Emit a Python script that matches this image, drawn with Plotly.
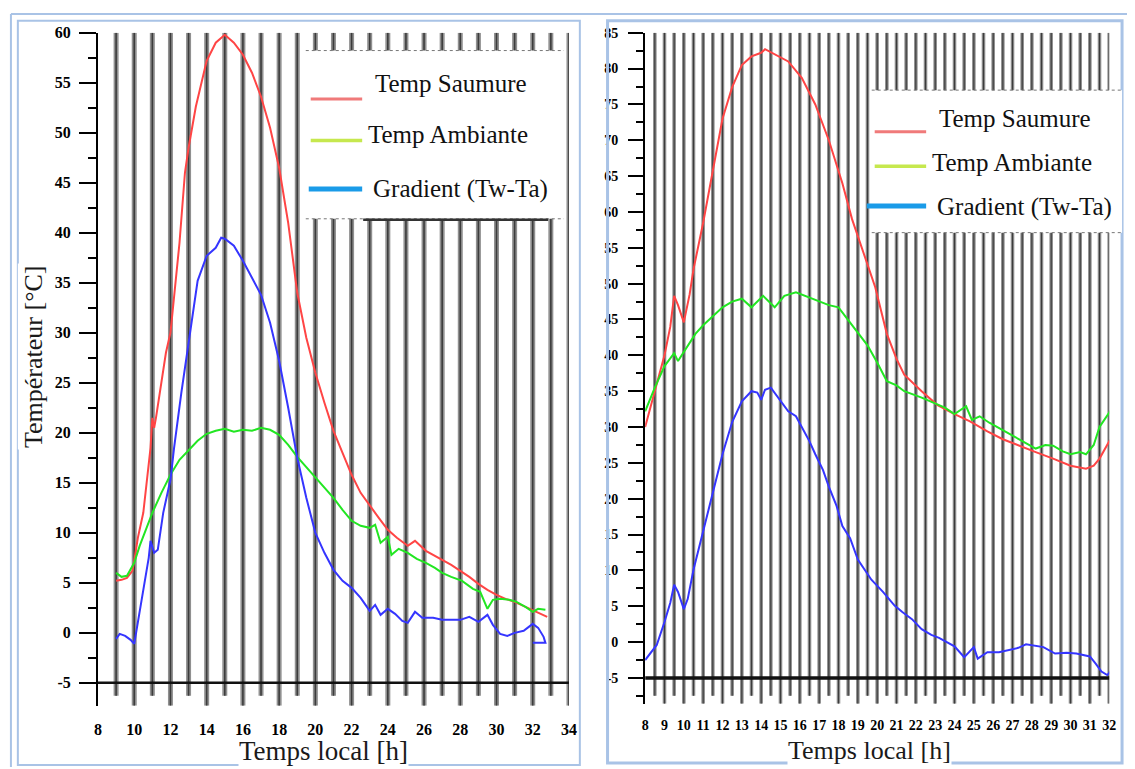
import plotly.graph_objects as go

# ---------------- data : left panel ----------------
t_saumure_L = [9.0, 9.3, 9.6, 9.9, 10.0, 10.2, 10.5, 10.7, 10.9, 11.0, 11.1, 11.2, 11.5, 11.75, 12.0,
               12.5, 12.8, 13.0, 13.4, 13.7, 14.0, 14.5, 15.0, 15.5, 16.0, 16.5, 17.0, 17.5, 18.0,
               18.5, 19.0, 19.5, 20.0, 20.5, 21.0, 21.5, 22.0, 22.5, 23.0, 23.5, 24.0, 24.5, 25.1,
               25.5, 26.1, 26.5, 27.0, 27.5, 28.0, 28.5, 29.0, 29.5, 30.0, 30.5, 31.0, 31.5, 32.0,
               32.4, 32.8]
saumure_L = [5.2, 5.3, 5.5, 6.2, 7.2, 9.5, 12.0, 15.0, 18.5, 21.5, 20.5, 21.5, 25.0, 28.0, 30.0,
             39.0, 46.0, 48.5, 52.6, 55.0, 57.2, 59.0, 59.8, 59.0, 57.8, 56.0, 53.6, 50.5, 46.5,
             41.0, 34.0, 29.5, 26.0, 23.0, 20.2, 18.0, 15.8, 14.0, 12.7, 11.5, 10.3, 9.5, 8.7,
             9.2, 8.2, 7.8, 7.3, 6.8, 6.2, 5.6, 4.9, 4.3, 3.8, 3.4, 3.1, 2.7, 2.3,
             2.0, 1.6]

t_ambiante_L = [9.0, 9.3, 9.6, 10.0, 10.3, 10.6, 11.0, 11.5, 12.0, 12.5, 13.0, 13.5, 14.0, 14.5,
                15.0, 15.5, 16.0, 16.5, 17.0, 17.5, 18.0, 18.5, 19.0, 19.5, 20.0, 20.5, 21.0,
                21.5, 22.0, 22.5, 23.0, 23.3, 23.6, 24.0, 24.2, 24.6, 25.1, 25.6, 26.1, 26.6,
                27.0, 27.5, 28.1, 28.7, 29.1, 29.5, 29.8, 30.2, 30.7, 31.1, 31.6, 32.0, 32.3, 32.7]
ambiante_L = [6.0, 5.6, 5.7, 7.0, 8.7, 10.2, 12.0, 14.0, 15.8, 17.3, 18.3, 19.2, 19.9, 20.2,
              20.4, 20.1, 20.3, 20.2, 20.5, 20.3, 19.8, 18.8, 17.6, 16.6, 15.6, 14.5, 13.5,
              12.3, 11.2, 10.7, 10.5, 10.8, 9.0, 9.6, 7.8, 8.4, 8.0, 7.4, 7.0, 6.5,
              6.0, 5.6, 5.2, 4.4, 4.1, 2.4, 3.3, 3.4, 3.3, 3.1, 2.6, 2.1, 2.4, 2.3]

t_gradient_L = [9.0, 9.2, 9.5, 9.8, 10.0, 10.2, 10.5, 10.8, 10.9, 11.1, 11.3, 11.6, 12.0, 12.2,
                12.6, 13.0, 13.5, 14.0, 14.5, 14.8, 15.0, 15.5, 16.0, 16.5, 17.0, 17.5, 18.0,
                18.5, 19.0, 19.5, 20.0, 20.5, 21.0, 21.5, 22.0, 22.5, 23.0, 23.3, 23.6, 24.0,
                24.4, 24.8, 25.1, 25.5, 25.9, 26.5, 27.0, 27.5, 28.0, 28.5, 29.0, 29.5, 29.8,
                30.2, 30.6, 31.0, 31.5, 32.0, 32.3, 32.6, 32.7, 32.0]
gradient_L = [-0.6, -0.1, -0.3, -0.7, -1.1, 1.0, 4.5, 7.5, 9.2, 8.0, 8.3, 12.0, 15.3, 18.5,
              24.0, 29.0, 35.2, 37.7, 38.5, 39.5, 39.4, 38.7, 37.2, 35.5, 33.8, 31.0, 27.2,
              22.5, 17.5, 13.5, 10.0, 8.0, 6.3, 5.2, 4.5, 3.5, 2.2, 2.8, 1.8, 2.4,
              1.9, 1.2, 1.0, 2.1, 1.5, 1.5, 1.3, 1.3, 1.3, 1.6, 1.1, 1.8, 0.8,
              -0.1, -0.3, 0.0, 0.2, 0.9, 0.5, -0.4, -1.0, -1.0]

# ---------------- data : right panel ----------------
t_saumure_R = [8.0, 8.5, 9.0, 9.3, 9.5, 9.7, 10.0, 10.3, 10.5, 11.0, 11.5, 12.0, 12.5, 13.0,
               13.5, 14.0, 14.2, 14.7, 15.4, 16.1, 16.8, 17.5, 18.2, 18.7, 19.4, 19.9, 20.5,
               21.0, 21.4, 21.9, 22.3, 23.1, 24.0, 24.8, 25.7, 26.5, 27.4, 28.2, 29.1, 30.0,
               30.8, 31.2, 31.5, 32.0, 32.2]
saumure_R = [30.0, 35.0, 40.0, 44.0, 48.3, 47.0, 44.6, 48.5, 52.0, 58.5, 66.0, 73.0, 77.4, 80.5,
             81.7, 82.2, 82.7, 82.0, 81.0, 78.7, 75.0, 70.0, 64.0, 59.0, 53.5, 49.5, 43.0,
             39.5, 37.3, 36.0, 35.0, 33.1, 31.8, 30.8, 29.4, 28.3, 27.3, 26.5, 25.6, 24.6,
             24.2, 24.6, 25.6, 28.0, 28.6]

t_ambiante_R = [8.0, 8.5, 9.0, 9.5, 9.7, 10.0, 10.2, 10.6, 11.0, 11.5, 12.0, 12.5, 13.0, 13.5,
                14.1, 14.7, 15.2, 15.8, 16.5, 17.2, 17.5, 18.0, 18.7, 19.5, 20.0, 20.5, 21.0,
                21.4, 22.3, 23.0, 23.5, 24.0, 24.6, 24.9, 25.3, 25.8, 26.2, 26.8, 27.4, 28.2,
                28.7, 29.1, 29.6, 30.0, 30.5, 30.8, 31.2, 31.5, 32.0, 32.2]
ambiante_R = [32.2, 35.5, 38.5, 40.3, 39.2, 40.5, 41.4, 43.0, 44.2, 45.5, 46.7, 47.5, 47.9, 46.7,
              48.3, 46.7, 48.3, 48.8, 48.1, 47.4, 47.0, 46.7, 44.2, 41.4, 39.0, 36.4, 35.8,
              35.0, 34.1, 33.3, 32.7, 31.8, 32.9, 31.0, 31.5, 30.6, 30.0, 29.0, 28.1, 27.0,
              27.5, 27.4, 26.6, 26.2, 26.5, 26.2, 27.5, 30.0, 32.0, 32.7]

t_gradient_R = [8.0, 8.6, 9.0, 9.3, 9.5, 9.7, 10.0, 10.2, 10.5, 11.0, 11.5, 12.0, 12.5, 13.0,
                13.5, 13.8, 14.0, 14.2, 14.5, 14.9, 15.4, 15.8, 16.1, 16.5, 16.8, 17.2, 17.5,
                17.9, 18.2, 18.6, 19.0, 19.4, 19.7, 20.3, 20.9, 21.3, 21.8, 22.3, 22.8, 23.2,
                23.6, 24.0, 24.5, 25.0, 25.2, 25.7, 26.3, 26.9, 27.3, 27.7, 28.2, 28.6, 29.2,
                29.8, 30.3, 31.0, 31.3, 31.6, 31.9, 32.1]
gradient_R = [-2.5, -0.4, 2.8, 5.5, 8.0, 7.0, 4.6, 6.0, 10.1, 15.6, 20.7, 26.2, 30.7, 33.6,
              35.0, 34.8, 33.8, 35.2, 35.5, 34.1, 32.2, 31.5, 30.0, 28.0, 26.2, 24.0, 21.7,
              19.0, 16.2, 14.5, 11.5, 10.0, 8.7, 7.0, 5.1, 4.2, 3.2, 1.8, 1.0, 0.6,
              0.0, -0.6, -2.1, -0.7, -2.3, -1.4, -1.4, -1.1, -0.8, -0.3, -0.5, -0.7, -1.6,
              -1.5, -1.6, -2.0, -3.0, -4.1, -4.6, -4.0]

x_ticks_L = list(range(8, 35, 2))
x_ticks_R = list(range(8, 33, 1))
y_ticks_L = list(range(-5, 61, 5))
y_ticks_R = list(range(-5, 86, 5))
legend_labels = ["Temp Saumure", "Temp Ambiante", "Gradient (Tw-Ta)"]
x_title = "Temps local [h]"
y_title = "Températeur [°C]"

# ---------------- styling ----------------
W, H = 1135, 769
RED, GREEN, BLUE = "#ff4545", "#22e622", "#3535ff"
LEG_RED, LEG_GREEN, LEG_BLUE = "#f07a7a", "#c6e84e", "#1a9be8"
FRAME = "#a9c3e6"
SERIF = "Liberation Serif"


def px(x):
    return x / W


def py(y):
    return 1 - y / H


def bold(vals):
    return ["<b>%d</b>" % v for v in vals]


# axis geometry (pixel positions)
L_X0, L_X1, L_XMIN, L_XMAX = 95, 571, 8, 34
L_Y0, L_Y1, L_YMIN, L_YMAX = 25, 705, -7.28, 60
R_X0, R_X1, R_XMIN, R_XMAX = 648, 1117, 8, 32
R_Y0, R_Y1, R_YMIN, R_YMAX = 25, 703, -8.59, 85

fig = go.Figure()

series = [
    ("x", "y", t_saumure_L, saumure_L, RED),
    ("x", "y", t_ambiante_L, ambiante_L, GREEN),
    ("x", "y", t_gradient_L, gradient_L, BLUE),
    ("x2", "y2", t_saumure_R, saumure_R, RED),
    ("x2", "y2", t_ambiante_R, ambiante_R, GREEN),
    ("x2", "y2", t_gradient_R, gradient_R, BLUE),
]
for xa, ya, xs, ys, col in series:
    fig.add_trace(go.Scatter(x=xs, y=ys, xaxis=xa, yaxis=ya, mode="lines",
                             line=dict(color=col, width=2), showlegend=False,
                             hoverinfo="skip"))

shapes = []


def vline(xref, yref, x, y0, y1, w_out, w_in):
    shapes.append(dict(type="line", xref=xref, yref=yref, x0=x, x1=x, y0=y0, y1=y1,
                       line=dict(color="#909090", width=w_out), layer="below"))
    shapes.append(dict(type="line", xref=xref, yref=yref, x0=x, x1=x, y0=y0, y1=y1,
                       line=dict(color="#3c3c3c", width=w_in), layer="below"))


# hourly bars on the left panel, longer on even hours
for h in range(9, 35):
    bottom = L_YMIN if h % 2 == 0 else -6.3
    vline("x", "y", h, bottom, L_YMAX, 5, 1.6)

# half-hourly bars on the right panel, longer on whole hours
for k in range(1, 49):
    h = 8 + k * 0.5
    bottom = R_YMIN if k % 2 == 0 else -7.5
    vline("x2", "y2", h, bottom, R_YMAX, 3.6, 1.2)

# horizontal base lines at -5
shapes.append(dict(type="line", xref="x", yref="y", x0=8, x1=34, y0=-5, y1=-5,
                   line=dict(color="#111", width=2.5), layer="below"))
shapes.append(dict(type="line", xref="x2", yref="y2", x0=8, x1=32.2, y0=-5, y1=-5,
                   line=dict(color="#111", width=3.5), layer="below"))

# panel frames
shapes.append(dict(type="line", xref="paper", yref="paper", x0=px(7), x1=px(1135),
                   y0=py(6), y1=py(6), line=dict(color=FRAME, width=2)))
shapes.append(dict(type="line", xref="paper", yref="paper", x0=px(7), x1=px(7),
                   y0=py(6), y1=py(767), line=dict(color=FRAME, width=2)))
shapes.append(dict(type="rect", xref="paper", yref="paper", x0=px(14), x1=px(582),
                   y0=py(765), y1=py(13), line=dict(color=FRAME, width=2)))
shapes.append(dict(type="rect", xref="paper", yref="paper", x0=px(610), x1=px(1130),
                   y0=py(763), y1=py(13), line=dict(color=FRAME, width=3)))


# legend boxes
def legend_box(x0, x1, y0, y1):
    shapes.append(dict(type="rect", xref="paper", yref="paper", x0=px(x0), x1=px(x1),
                       y0=py(y1), y1=py(y0), fillcolor="white", line=dict(width=0),
                       layer="above"))
    for yy in (y0, y1):
        shapes.append(dict(type="line", xref="paper", yref="paper", x0=px(x0), x1=px(x1),
                           y0=py(yy), y1=py(yy),
                           line=dict(color="#777", width=1, dash="dot"), layer="above"))


legend_box(305, 566, 43, 213)
shapes.append(dict(type="line", xref="paper", yref="paper", x0=px(363), x1=px(550),
                   y0=py(214), y1=py(214), line=dict(color="#333", width=2.5),
                   layer="above"))
legend_box(877, 1130, 83, 227)

annotations = []


def legend_entries(samples, texts):
    for (x0, x1, y, col, w) in samples:
        shapes.append(dict(type="line", xref="paper", yref="paper", x0=px(x0), x1=px(x1),
                           y0=py(y), y1=py(y), line=dict(color=col, width=w),
                           layer="above"))
    for lab, (tx, ty) in zip(legend_labels, texts):
        annotations.append(dict(text=lab, x=px(tx), y=py(ty), xref="paper", yref="paper",
                                xanchor="center", yanchor="middle", showarrow=False,
                                font=dict(family=SERIF, size=25, color="#111")))


legend_entries(
    [(310, 362, 92, LEG_RED, 3), (310, 362, 134, LEG_GREEN, 3.5), (308, 362, 183, LEG_BLUE, 5)],
    [(452, 76), (449, 128), (461, 183)])
legend_entries(
    [(880, 932, 125, LEG_RED, 3), (880, 932, 160, LEG_GREEN, 3.5), (872, 932, 200, LEG_BLUE, 5)],
    [(1022, 112), (1019, 156), (1031, 201)])

# axis titles
annotations.append(dict(text=x_title, x=px(323), y=py(751), xref="paper", yref="paper",
                        xanchor="center", yanchor="middle", showarrow=False,
                        bgcolor="white", borderpad=0,
                        font=dict(family=SERIF, size=27, color="#1a1a1a")))
annotations.append(dict(text=x_title, x=px(875), y=py(750), xref="paper", yref="paper",
                        xanchor="center", yanchor="middle", showarrow=False,
                        bgcolor="white", borderpad=0,
                        font=dict(family=SERIF, size=26, color="#1a1a1a")))
annotations.append(dict(text=y_title, x=px(30), y=py(352), xref="paper", yref="paper",
                        xanchor="center", yanchor="middle", showarrow=False, textangle=-90,
                        bgcolor="white", font=dict(family=SERIF, size=26, color="#1a1a1a")))

tick_font = dict(family=SERIF, size=16, color="black")
tick_font_r = dict(family=SERIF, size=14, color="black")

fig.update_layout(
    width=W, height=H, margin=dict(l=0, r=0, t=0, b=0),
    paper_bgcolor="white", plot_bgcolor="white",
    shapes=shapes, annotations=annotations, showlegend=False,
    xaxis=dict(domain=[px(L_X0), px(L_X1)], range=[L_XMIN, L_XMAX], anchor="y",
               tickmode="array", tickvals=x_ticks_L, ticktext=bold(x_ticks_L),
               ticks="outside", ticklen=1, tickcolor="rgba(0,0,0,0)", ticklabelstandoff=8,
               tickangle=0, showgrid=False, zeroline=False, showline=False, tickfont=tick_font),
    yaxis=dict(domain=[py(L_Y1), py(L_Y0)], range=[L_YMIN, L_YMAX], anchor="x",
               tickmode="array", tickvals=y_ticks_L, ticktext=bold(y_ticks_L),
               ticks="outside", ticklen=17, tickwidth=2, tickcolor="black",
               minor=dict(dtick=2.5, tick0=0, ticks="outside", ticklen=8, tickwidth=2,
                          tickcolor="black"),
               showline=True, linecolor="black", linewidth=2, showgrid=False, zeroline=False,
               ticklabelstandoff=5, tickfont=tick_font),
    xaxis2=dict(domain=[px(R_X0), px(R_X1)], range=[R_XMIN, R_XMAX], anchor="y2",
                tickmode="array", tickvals=x_ticks_R, ticktext=bold(x_ticks_R),
                ticks="outside", ticklen=1, tickcolor="rgba(0,0,0,0)", ticklabelstandoff=8,
                tickangle=0, showgrid=False, zeroline=False, showline=False,
                tickfont=tick_font_r),
    yaxis2=dict(domain=[py(R_Y1), py(R_Y0)], range=[R_YMIN, R_YMAX], anchor="x2",
                tickmode="array", tickvals=y_ticks_R, ticktext=bold(y_ticks_R),
                ticks="outside", ticklen=15, tickwidth=2, tickcolor="black",
                minor=dict(dtick=2.5, tick0=0, ticks="outside", ticklen=7, tickwidth=2,
                           tickcolor="black"),
                showline=True, linecolor="black", linewidth=2, showgrid=False, zeroline=False,
                ticklabelstandoff=7, tickfont=tick_font_r),
)

fig.write_html("out.html")
